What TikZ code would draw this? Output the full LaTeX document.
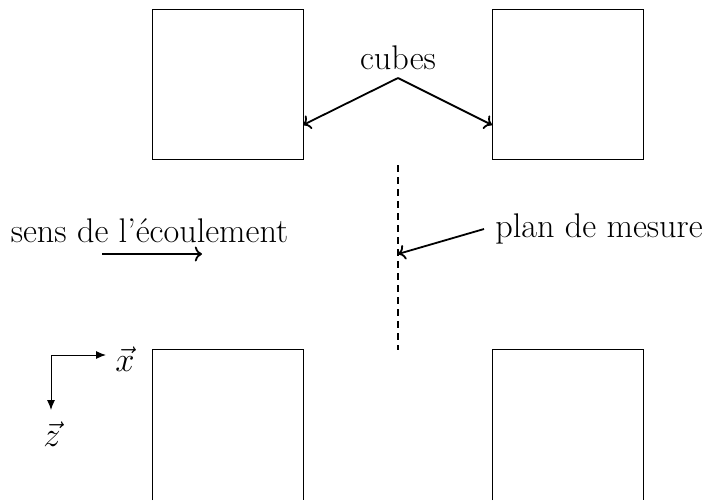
\documentclass[tikz,border=0pt]{standalone}
\usetikzlibrary{arrows.meta,calc}
\begin{document}
\begin{tikzpicture}[x=0.5pt,y=-0.5pt,
  cube/.style={draw,line width=0.5pt,minimum width=75.5pt,minimum height=75pt,inner sep=0pt,outer sep=0pt},
  lbl/.style={font=\fontsize{17.1}{20}\selectfont,inner sep=0pt},
  pointer/.style={->,line width=0.9pt},
  axis/.style={-{Latex[length=5pt,width=4pt]},line width=0.5pt}]
\useasboundingbox (0,0) rectangle (705,500);
% top cubes
\node[cube] (tl) at (227.5,84) {};
\node[cube] (tr) at (567.5,84) {};
% bottom cubes (cut by the frame)
\draw[line width=0.5pt] (152,500) -- (152,349) -- (303,349) -- (303,500);
\draw[line width=0.5pt] (492,500) -- (492,349) -- (643,349) -- (643,500);
% labels
\node[lbl] (cubes) at (398,58) {cubes};
\coordinate (cv) at (398,78);
\coordinate (tlp) at (303,125);
\coordinate (trp) at (492,125);
\draw[pointer] (cv) -- (tlp);
\draw[pointer] (cv) -- (trp);
% measurement plane
\coordinate (pa) at (398,165);
\coordinate (pb) at (398,350);
\draw[line width=0.8pt,dash pattern=on 3.5pt off 2.5pt] (pa) -- (pb);
\node[lbl,anchor=west] (plan) at (495,229) {plan de mesure};
\coordinate (pf) at (484,229);
\coordinate (pt) at (398,254);
\draw[pointer] (pf) -- (pt);
% flow
\node[lbl] (sens) at (149.5,231) {sens de l'écoulement};
\coordinate (fa) at (102,254);
\coordinate (fb) at (202,254);
\draw[pointer] (fa) -- (fb);
% axes
\coordinate (o) at (51,355);
\coordinate (ox) at (106,355);
\coordinate (oz) at (51,410);
\draw[axis] (o) -- (ox);
\draw[axis] (o) -- (oz);
\node[lbl] (xl) at (125,359) {$\vec{x}$};
\node[lbl] (zl) at (52,434) {$\vec{z}$};
\end{tikzpicture}
\end{document}
